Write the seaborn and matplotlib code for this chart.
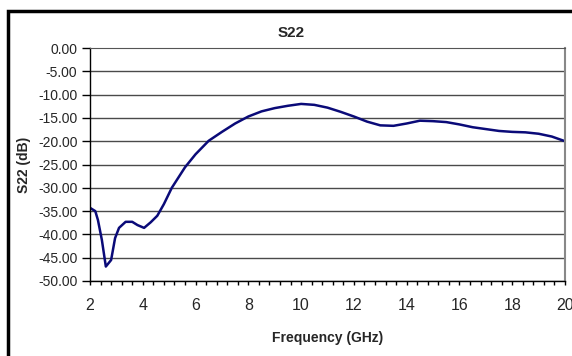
import matplotlib
matplotlib.use("Agg")
import matplotlib.pyplot as plt
import matplotlib.ticker as mticker
from matplotlib.patches import Rectangle
import seaborn as sns
import pandas as pd

freq_ghz = [2.0, 2.2, 2.3, 2.45, 2.6, 2.8, 2.95, 3.1, 3.35, 3.6, 3.8, 4.05, 4.3, 4.55,
            4.8, 5.1, 5.35, 5.6, 6.0, 6.5, 7.0, 7.5, 8.0, 8.5, 9.0, 9.5, 10.0, 10.5,
            11.0, 11.5, 12.0, 12.5, 13.0, 13.5, 14.0, 14.5, 15.0, 15.5, 16.0, 16.5,
            17.0, 17.5, 18.0, 18.5, 19.0, 19.5, 20.0]
s22_db = [-34.3, -35.0, -36.9, -41.2, -46.9, -45.5, -40.8, -38.6, -37.3, -37.3, -38.0,
          -38.6, -37.4, -36.0, -33.5, -30.0, -27.8, -25.6, -22.8, -19.9, -18.0, -16.2,
          -14.7, -13.6, -12.9, -12.4, -12.0, -12.2, -12.8, -13.7, -14.7, -15.8, -16.6,
          -16.7, -16.2, -15.6, -15.7, -15.9, -16.4, -17.0, -17.4, -17.8, -18.0, -18.1,
          -18.4, -19.0, -20.0]
x_ticks = [2, 4, 6, 8, 10, 12, 14, 16, 18, 20]
y_ticks = [0, -5, -10, -15, -20, -25, -30, -35, -40, -45, -50]

title_text = "S22"
x_label = "Frequency (GHz)"
y_label = "S22 (dB)"

sns.set_style("white")
plt.rcParams['font.family'] = ['Liberation Sans', 'DejaVu Sans']
plt.rcParams['axes.unicode_minus'] = False

df = pd.DataFrame({"freq": freq_ghz, "s22": s22_db})

W, H = 572, 356
fig = plt.figure(figsize=(W / 100, H / 100), dpi=100)
ax = fig.add_axes([90 / W, (H - 281) / H, (565 - 90) / W, (281 - 48) / H])

sns.lineplot(data=df, x="freq", y="s22", ax=ax, color="#0a0a78", linewidth=1.8)

ax.set_xlim(2, 20)
ax.set_ylim(-50, 0)
ax.set_xticks(x_ticks)
ax.set_yticks(y_ticks)
ax.xaxis.set_minor_locator(mticker.MultipleLocator(0.4))
ax.yaxis.set_major_formatter(mticker.FuncFormatter(lambda v, p: f"{v:.2f}".replace("-0.00", "0.00")))
ax.xaxis.set_major_formatter(mticker.FuncFormatter(lambda v, p: f"{int(v)}"))

for y in y_ticks[1:]:
    ax.axhline(y, color="#4a4a4a", linewidth=1.0, zorder=0)
ax.grid(False)

for side in ["left", "bottom"]:
    ax.spines[side].set_color("black")
    ax.spines[side].set_linewidth(1.0)
ax.spines["top"].set_color("#555555")
ax.spines["right"].set_color("#888888")
ax.spines["right"].set_linewidth(1.5)

ax.tick_params(axis="x", which="both", direction="out", length=3, width=1,
               color="black", bottom=True, labelsize=11.5, pad=9.5)
ax.tick_params(axis="y", which="major", direction="out", length=5.5, width=1,
               color="black", left=True, labelsize=10, pad=3.5)

ax.set_xlabel("")
ax.set_ylabel("")
fig.text(291 / W, 1 - 33 / H, title_text, fontsize=11, fontweight="bold",
         ha="center", va="center")
fig.text(328 / W, 1 - 338 / H, x_label, fontsize=10, fontweight="bold",
         ha="center", va="center")
fig.text(24 / W, 1 - 165 / H, y_label, fontsize=10, fontweight="bold",
         rotation=90, ha="center", va="center")

fig.patches.append(Rectangle((8 / W, -0.1), 1.2, (H - 11) / H + 0.1,
                             transform=fig.transFigure, fill=False,
                             edgecolor="black", linewidth=2.5))

fig.savefig("out.png", dpi=100, facecolor="white")
